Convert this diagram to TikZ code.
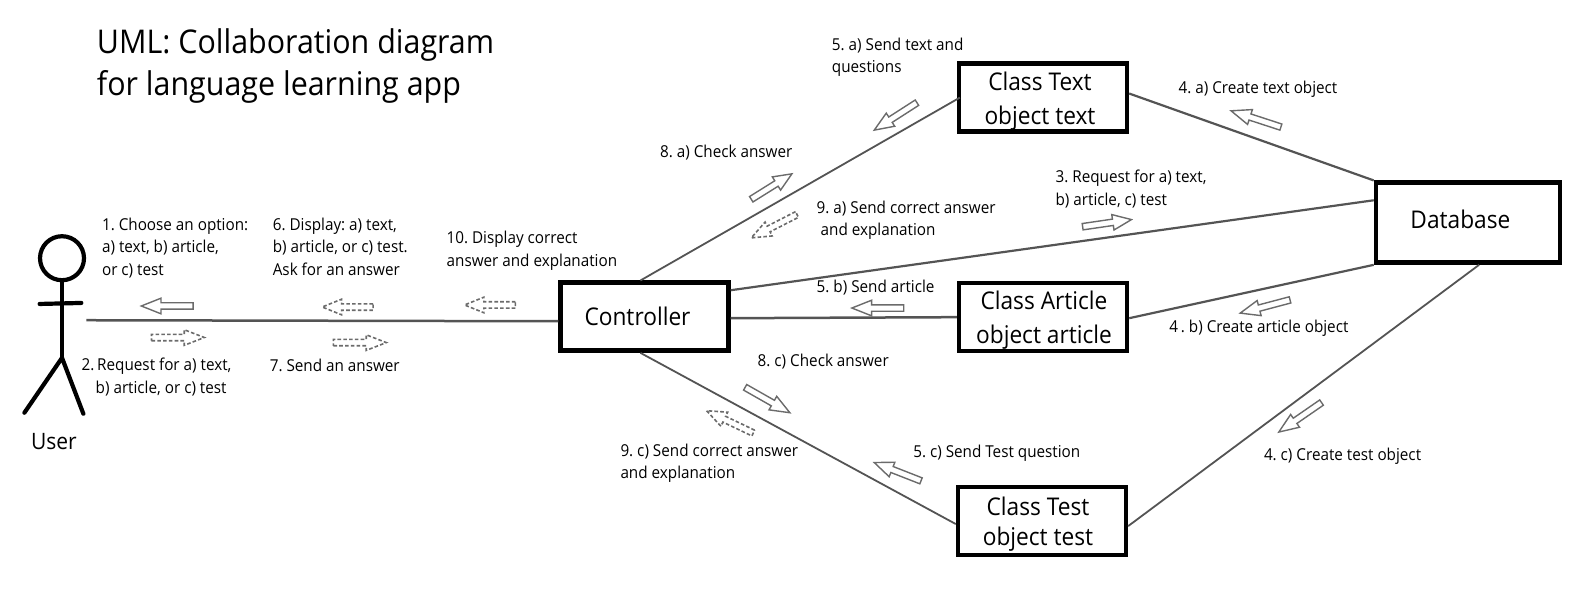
\documentclass[tikz,border=0pt]{standalone}
\usepackage{fontspec}
\setmainfont[FakeStretch=0.93]{Open Sans}
\usetikzlibrary{calc}
\definecolor{ln}{gray}{0.33}
\definecolor{ar}{gray}{0.42}
\frenchspacing
\newcommand{\blk}[5]{%
  \pgfmathsetmacro{\bang}{atan2(-(#5-#3),#4-#2)}%
  \pgfmathsetmacro{\blen}{veclen(#4-#2,#5-#3)*0.5083}%
  \pgfmathsetmacro{\bneck}{\blen*0.62}%
  \draw[#1,shift={(#2,#3)},rotate=\bang] (0pt,-1.6pt) -- (\bneck pt,-1.6pt) -- (\bneck pt,-3.9pt) -- (\blen pt,0pt) -- (\bneck pt,3.9pt) -- (\bneck pt,1.6pt) -- (0pt,1.6pt) -- cycle;}
\newcommand{\tl}[1]{\rule{0pt}{#1pt}}
\tikzset{
  x=0.5083pt,y=-0.5083pt,
  objbox/.style={draw=black,line width=2.2pt,fill=white,minimum width=84pt,minimum height=34pt,inner sep=0pt,align=center,font=\fontsize{12.2}{17}\selectfont},
  lbl/.style={anchor=north west,inner sep=0pt,align=left,font=\fontsize{8.2}{11.2}\selectfont},
  conn/.style={draw=ln,line width=0.9pt},
  midconn/.style={draw=ln,line width=1.1pt},
  thickconn/.style={draw=ln,line width=1.25pt},
  solidar/.style={draw=ar,line width=0.7pt,fill=white},
  dashar/.style={draw=ar,line width=0.8pt,fill=white,dash pattern=on 1.8pt off 1.1pt},
  stick/.style={draw=black,line width=2.1pt,line cap=round}
}
\begin{document}
\begin{tikzpicture}
\useasboundingbox (0,0) rectangle (1570,593);
\node[anchor=north west,inner sep=0pt,align=left,font=\fontsize{16.35}{20.8}\selectfont] (title) at (95,28) {UML: Collaboration diagram\\for language learning app};
% objects
\node[objbox] (text) at (1026,96) {\tl{12.4}Class Text\hspace*{3pt}\\object text\hspace*{3pt}};
\node[objbox,minimum width=92pt,minimum height=40pt] (db) at (1444,219) {Database\hspace*{7.5pt}\rule[-3pt]{0pt}{3pt}};
\node[objbox] (ctrl) at (634,311.5) {Controller\hspace*{7pt}};
\node[objbox] (article) at (1026,312) {\tl{12.4}\hspace*{1pt}Class Article\\\hspace*{1pt}object article};
\node[objbox] (test) at (1025,512.5) {\tl{12.4}Class Test\hspace*{4pt}\\[-2pt]object test\hspace*{4pt}};
% actor
\coordinate (hand) at (85,315);
\node[circle,draw=black,line width=2.1pt,minimum size=22pt,inner sep=0pt] (head) at (61,254) {};
\coordinate (hip) at (61,352);
\coordinate (armL) at (39,299);
\coordinate (armR) at (80,298);
\coordinate (footL) at (24,406);
\coordinate (footR) at (82,407);
\draw[stick] (head.south) -- (hip);
\draw[stick] (armL) -- (armR);
\draw[stick] (footL) -- (hip) -- (footR);
\node[anchor=north,inner sep=0pt,font=\fontsize{11.3}{13}\selectfont] (user) at (53,426) {User};
% connectors
\draw[thickconn] (hand) -- ([shift={(0,4.5)}]ctrl.west);
\draw[conn] ([shift={(-4,0)}]ctrl.north) -- ([shift={(3,0)}]text.west);
\draw[midconn] ([shift={(0,-26)}]ctrl.east) -- ([shift={(0,-22)}]db.west);
\draw[thickconn] ([shift={(0,1.5)}]ctrl.east) -- (article.west);
\draw[conn] ([shift={(-4,0)}]ctrl.south) -- ([shift={(0,3)}]test.west);
\draw[midconn] ([shift={(0,-4)}]text.east) -- (db.north west);
\draw[midconn] ([shift={(0,1)}]article.east) -- (db.south west);
\draw[conn] ([shift={(0,5)}]test.east) -- ([shift={(11,0)}]db.south);
% block arrows
\blk{solidar}{190}{301}{139}{301}
\blk{dashar}{149}{332}{201}{332}
\blk{dashar}{367}{302}{317}{302}
\blk{dashar}{328}{337}{380}{337}
\blk{dashar}{507}{300}{457}{300}
\blk{solidar}{902}{101}{860}{128}
\blk{solidar}{739}{196}{779}{171}
\blk{dashar}{784}{211}{739}{234}
\blk{solidar}{1260}{125}{1211}{109}
\blk{solidar}{1065}{223}{1113}{216}
\blk{solidar}{889}{303}{838}{303}
\blk{solidar}{1269}{295}{1220}{308}
\blk{solidar}{733}{381}{777}{406}
\blk{dashar}{741}{426}{695}{404}
\blk{solidar}{906}{473}{860}{455}
\blk{solidar}{1300}{396}{1258}{425}
% labels
\node[lbl] (l1) at (100,214) {1. Choose an option:\\a) text, b) article,\\or c) test};
\node[lbl] (l2) at (80,352) {2.\,Request for a) text,\\\hspace*{7pt}b) article, or c) test};
\node[lbl] (l6) at (268,214) {6. Display: a) text,\\b) article, or c) test.\\Ask for an answer};
\node[lbl] (l7) at (265,353) {7. Send an answer};
\node[lbl] (l10) at (439,227) {10. Display correct\\answer and explanation};
\node[lbl] (l5a) at (818,37) {5. a) Send text and\\questions};
\node[lbl] (l8a) at (649,142) {8. a) Check answer};
\node[lbl] (l9a) at (803,197) {9. a) Send correct answer\\\hspace*{2pt}and explanation};
\node[lbl] (l4a) at (1159,79) {4. a) Create text object};
\node[lbl] (l3) at (1038,167) {3. Request for a) text,\\b) article, c) test};
\node[lbl] (l5b) at (803,275) {5. b) Send article};
\node[lbl] (l4b) at (1150,314) {4\,. b) Create article object};
\node[lbl] (l8c) at (745,348) {8. c) Check answer};
\node[lbl] (l9c) at (610,436) {9. c) Send correct answer\\and explanation};
\node[lbl] (l5c) at (898,437) {5. c) Send Test question};
\node[lbl] (l4c) at (1243,440) {4. c) Create test object};
\end{tikzpicture}
\end{document}
